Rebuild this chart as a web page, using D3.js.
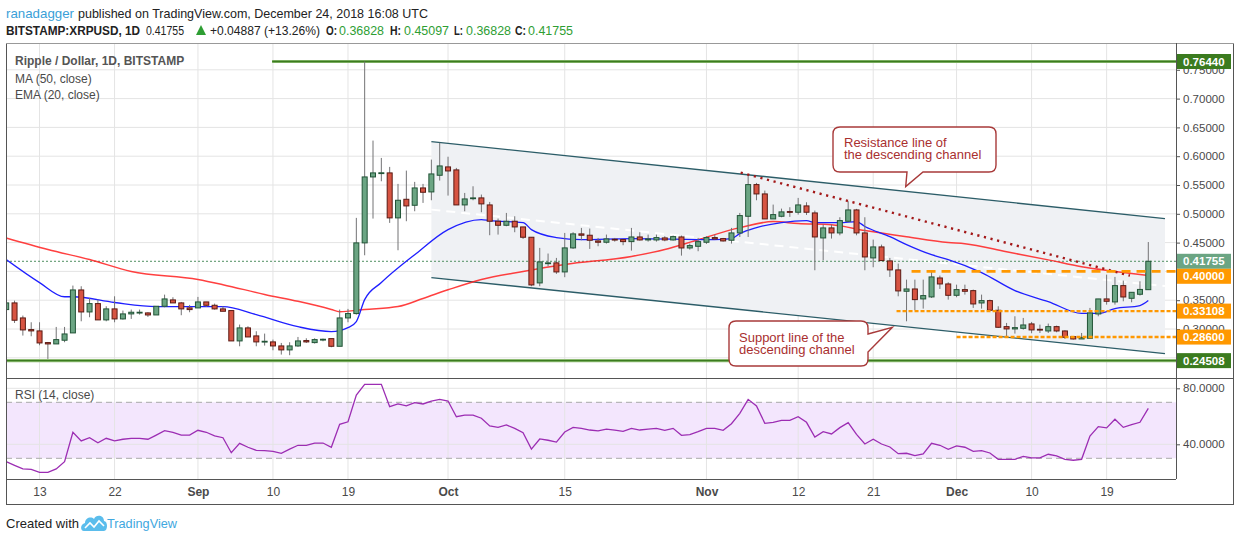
<!DOCTYPE html>
<html>
<head>
<meta charset="utf-8">
<script src="https://cdn.jsdelivr.net/npm/d3@7"></script>
<style>
  body { margin: 0; background: #fff; }
  svg text { font-family: "Liberation Sans", Arial, sans-serif; }
</style>
</head>
<body>
<div id="chart"></div>
<script>
const startDay = '2018-08-09';

const opens = [
  0.3337,0.3453,0.3192,0.2990,0.2967,0.2764,0.2741,0.2805,0.2932,0.3678,
  0.3296,0.3441,0.3158,0.3349,0.3175,0.3262,0.3285,0.3279,0.3244,0.3395,
  0.3505,0.3453,0.3366,0.3366,0.3470,0.3412,0.3349,0.3320,0.2793,0.3019,
  0.2880,0.2776,0.2776,0.2706,0.2637,0.2706,0.2799,0.2764,0.2816,0.2833,
  0.2700,0.3192,0.3268,0.4495,0.5640,0.5705,0.5710,0.4929,0.5252,0.5148,
  0.5449,0.5380,0.5669,0.5814,0.5762,0.5154,0.5270,0.5276,0.5154,0.4871,
  0.4801,0.4871,0.4772,0.4593,0.3800,0.4142,0.4148,0.3991,0.4408,0.4651,
  0.4628,0.4529,0.4506,0.4558,0.4552,0.4517,0.4598,0.4546,0.4546,0.4581,
  0.4546,0.4598,0.4407,0.4436,0.4506,0.4587,0.4569,0.4541,0.4668,0.4957,
  0.5507,0.5345,0.4911,0.4957,0.5039,0.5027,0.5137,0.5015,0.4581,0.4755,
  0.4668,0.4871,0.5067,0.4668,0.4234,0.4425,0.4182,0.4026,0.3655,0.3695,
  0.3522,0.3557,0.3886,0.3782,0.3585,0.3684,0.3666,0.3452,0.3493,0.3325,
  0.3041,0.3001,0.3012,0.3088,0.2995,0.2966,0.3041,0.2966,0.2868,0.2827,
  0.2839,0.3261,0.3522,0.3470,0.3753,0.3533,0.3603,0.36828
];
const highs = [
  0.3460,0.3493,0.3233,0.3117,0.3117,0.2775,0.3036,0.3036,0.3754,0.3742,
  0.3539,0.3511,0.3395,0.3568,0.3320,0.3337,0.3337,0.3291,0.3395,0.3597,
  0.3551,0.3470,0.3418,0.3557,0.3470,0.3441,0.3395,0.3320,0.3077,0.3048,
  0.2961,0.2920,0.2816,0.2758,0.2770,0.2862,0.2839,0.2839,0.2833,0.2833,
  0.3337,0.3349,0.4929,0.7644,0.6271,0.5970,0.5814,0.5519,0.5750,0.5554,
  0.5519,0.5941,0.6231,0.5991,0.5797,0.5362,0.5478,0.5334,0.5206,0.4917,
  0.5015,0.4957,0.4772,0.4593,0.4408,0.4310,0.4234,0.4668,0.4680,0.4755,
  0.4744,0.4581,0.4639,0.4581,0.4564,0.4755,0.4680,0.4639,0.4639,0.4610,
  0.4622,0.4622,0.4483,0.4581,0.4610,0.4639,0.4581,0.4755,0.5015,0.5669,
  0.5536,0.5403,0.5160,0.5090,0.5114,0.5276,0.5200,0.5056,0.4813,0.4813,
  0.4940,0.5218,0.5085,0.4940,0.4552,0.4465,0.4234,0.4136,0.3857,0.3857,
  0.3857,0.3990,0.3927,0.3811,0.3770,0.3770,0.3684,0.3597,0.3510,0.3394,
  0.3105,0.3221,0.3192,0.3123,0.3076,0.3094,0.3059,0.2978,0.2868,0.2931,
  0.3366,0.3522,0.3944,0.3904,0.3840,0.3637,0.3828,0.45097
];
const lows = [
  0.3320,0.3105,0.2886,0.2874,0.2718,0.2480,0.2741,0.2770,0.2932,0.3134,
  0.3204,0.3158,0.3134,0.3117,0.3163,0.3175,0.3250,0.3210,0.3244,0.3377,
  0.3453,0.3239,0.3291,0.3366,0.3383,0.3337,0.3308,0.2793,0.2700,0.2862,
  0.2700,0.2712,0.2631,0.2556,0.2545,0.2689,0.2758,0.2747,0.2787,0.2683,
  0.2700,0.3117,0.3250,0.4280,0.4917,0.5565,0.4842,0.4367,0.4871,0.5044,
  0.5189,0.5235,0.5577,0.5316,0.5154,0.5044,0.5235,0.5027,0.4628,0.4639,
  0.4784,0.4680,0.4564,0.3742,0.3742,0.4089,0.3957,0.3899,0.4390,0.4541,
  0.4390,0.4437,0.4483,0.4517,0.4454,0.4361,0.4535,0.4517,0.4517,0.4523,
  0.4535,0.4274,0.4378,0.4350,0.4477,0.4552,0.4517,0.4483,0.4598,0.4598,
  0.5235,0.4911,0.4911,0.4940,0.4946,0.4986,0.4980,0.4020,0.4193,0.4570,
  0.4627,0.4853,0.4627,0.4020,0.4072,0.4188,0.3904,0.3568,0.3134,0.3325,
  0.3354,0.3539,0.3695,0.3510,0.3551,0.3597,0.3366,0.3354,0.3325,0.3018,
  0.2862,0.2920,0.2989,0.2926,0.2931,0.2931,0.2943,0.2827,0.2816,0.2827,
  0.2839,0.3221,0.3423,0.3423,0.3481,0.3464,0.3580,0.36828
];
const closes = [
  0.3453,0.3152,0.2984,0.2967,0.2758,0.2741,0.2816,0.2914,0.3678,0.3296,
  0.3441,0.3158,0.3349,0.3175,0.3262,0.3291,0.3291,0.3244,0.3395,0.3522,
  0.3453,0.3349,0.3337,0.3470,0.3412,0.3349,0.3308,0.2793,0.3019,0.2862,
  0.2776,0.2787,0.2706,0.2637,0.2706,0.2793,0.2776,0.2816,0.2822,0.2700,
  0.3192,0.3268,0.4495,0.5640,0.5710,0.5712,0.4929,0.5235,0.5137,0.5449,
  0.5374,0.5692,0.5831,0.5744,0.5154,0.5258,0.5276,0.5172,0.4871,0.4801,
  0.4871,0.4772,0.4593,0.3765,0.4165,0.4148,0.3991,0.4408,0.4651,0.4628,
  0.4541,0.4506,0.4564,0.4552,0.4517,0.4598,0.4546,0.4564,0.4587,0.4546,
  0.4604,0.4407,0.4448,0.4517,0.4587,0.4564,0.4529,0.4668,0.4969,0.5507,
  0.5345,0.4911,0.4986,0.5033,0.5027,0.5154,0.5027,0.4598,0.4755,0.4668,
  0.4882,0.5067,0.4668,0.4251,0.4425,0.4188,0.4026,0.3661,0.3695,0.3510,
  0.3580,0.3904,0.3782,0.3585,0.3684,0.3655,0.3435,0.3493,0.3325,0.3030,
  0.3001,0.3024,0.3070,0.2984,0.2984,0.3041,0.2966,0.2856,0.2827,0.2850,
  0.3279,0.3522,0.3481,0.3753,0.3556,0.3637,0.36868,0.41755
];

const rsi14 = [
  27.6,25.0,22.4,22.1,20.0,20.0,22.4,27.6,48.6,42.4,
  44.7,41.1,44.3,42.4,43.6,44.3,44.3,43.6,46.6,49.7,
  48.6,46.6,46.6,50.0,48.6,46.1,44.7,34.0,40.7,37.9,
  35.7,35.5,35.0,33.6,36.6,39.3,39.3,40.9,40.9,37.9,
  54.3,56.1,75.2,82.8,82.8,82.8,66.9,68.8,67.4,69.7,
  68.8,70.9,72.1,70.9,59.7,60.9,60.9,58.6,53.1,52.1,
  53.8,51.4,48.3,36.6,43.8,42.9,41.6,48.8,52.1,51.4,
  50.2,49.6,50.9,50.2,49.3,51.4,50.2,50.8,51.4,50.0,
  51.4,46.4,46.9,49.0,51.4,51.4,50.0,54.7,62.1,72.1,
  67.4,55.0,55.7,57.1,57.1,59.7,55.7,45.2,49.0,47.4,
  51.9,55.5,47.1,40.2,43.6,40.2,38.1,33.3,33.6,31.9,
  33.1,40.7,39.3,36.4,38.8,37.9,35.0,35.5,33.8,29.3,
  29.3,29.3,31.4,30.3,30.3,32.9,31.7,29.3,28.6,29.3,
  45.9,52.6,51.7,57.9,52.1,54.0,55.7,65.7
];

// [day index, value] read along the two moving averages
const ma50 = [
  [0,0.458],[5,0.438],[10,0.4205],[15,0.400],[23,0.386],[26,0.377],[31,0.360],
  [35,0.348],[39,0.334],[40,0.330],[43,0.334],[47,0.339],[50,0.353],[53,0.368],
  [57,0.386],[62,0.400],[67,0.412],[75,0.426],[79,0.438],[83,0.455],[88,0.476],
  [92,0.4865],[95,0.483],[99,0.481],[103,0.471],[108,0.460],[113,0.450],[115,0.448],
  [120,0.434],[125,0.420],[129,0.408],[133,0.400],[137,0.393]
];
const ema20 = [
  [0,0.4205],[4,0.3806],[7,0.356],[8,0.356],[13,0.346],[18,0.339],[26,0.339],
  [30,0.325],[35,0.304],[39,0.2955],[41,0.3024],[42,0.313],[43,0.351],[45,0.3806],
  [49,0.429],[53,0.4726],[57,0.490],[58,0.488],[62,0.4847],[63,0.4726],[66,0.4587],
  [69,0.455],[75,0.457],[85,0.455],[87,0.457],[88,0.4656],[90,0.476],[93,0.4847],
  [96,0.488],[97,0.4847],[100,0.4847],[102,0.4865],[103,0.478],[106,0.4604],
  [108,0.4465],[111,0.429],[113,0.4205],[117,0.398],[121,0.3667],[125,0.3476],
  [129,0.327],[131,0.327],[133,0.3354],[136,0.3406],[137,0.3493]
];

const timeTicks = [
  ['2018-08-13','13'],['2018-08-22','22'],['2018-09-01','Sep'],['2018-09-10','10'],
  ['2018-09-19','19'],['2018-10-01','Oct'],['2018-10-15','15'],['2018-11-01','Nov'],
  ['2018-11-12','12'],['2018-11-21','21'],['2018-12-01','Dec'],['2018-12-10','10'],
  ['2018-12-19','19']
];
const priceTicks = [0.25,0.30,0.35,0.40,0.45,0.50,0.55,0.60,0.65,0.70,0.75];
const rsiTicks = [40, 80];
const rsiBand = [30, 70];

// drawings on the chart
const channelTop = [[51,0.6253],[139,0.4917]];
const channelBottom = [[51,0.3892],[139,0.2573]];
const resistanceDots = [[88.1,0.5715],[134.8,0.3927]];
const greenLevels = [[0.7644,31.9],[0.24508,-1]];            // price, first day index
const orangeLevels = [[0.40,108.6,'long'],[0.33108,106.8,'short'],[0.286,114,'short']];
const lastPrice = 0.41755;
const priceBadges = [
  [0.7644,'#3b7b1f'],[0.41755,'#6ba583'],[0.40,'#ff9800'],
  [0.33108,'#ff9800'],[0.286,'#ff9800'],[0.24508,'#3b7b1f']
];
const callouts = [
  { lines: ['Resistance line of','the descending channel'], tip: [107.9,0.5472] },
  { lines: ['Support line of the','descending channel'], tip: [106.3,0.3030] }
];

// ---------- layout ----------
const W = 1234, H = 541;
const L = 6, R = 1176, T = 43, MB = 378, RB = 479, XB = 504;
const UP = '#6ba583', UP_B = '#225437', DN = '#d75442', DN_B = '#5b1a13';
const GRID = '#e4e4e4', AXIS_TXT = '#4a4a4a';

const svg = d3.select('#chart').append('svg')
  .attr('width', W).attr('height', H)
  .style('display', 'block');

const x = d3.scaleLinear().domain([0, 137]).range([6.2, 1148.3]);
const y = d3.scaleLinear().domain([0.25, 0.75]).range([357.8, 69.8]);
const yr = d3.scaleLinear().domain([40, 80]).range([444.3, 388.3]);

const day0 = new Date(startDay + 'T00:00:00Z');
const dayIdx = s => d3.utcDay.count(day0, new Date(s + 'T00:00:00Z'));

const defs = svg.append('defs');
defs.append('clipPath').attr('id', 'clipMain')
  .append('rect').attr('x', L).attr('y', T).attr('width', R - L).attr('height', MB - T);
defs.append('clipPath').attr('id', 'clipRsi')
  .append('rect').attr('x', L).attr('y', MB).attr('width', R - L).attr('height', RB - MB);

// ---------- header ----------
const head = svg.append('g').attr('font-size', 13);
head.append('text').attr('x', 6).attr('y', 18).attr('fill', '#3a9fd8')
  .attr('textLength', 68).attr('lengthAdjust', 'spacingAndGlyphs').text('ranadagger');
head.append('text').attr('x', 78).attr('y', 18).attr('fill', '#222')
  .attr('textLength', 350).attr('lengthAdjust', 'spacingAndGlyphs')
  .text('published on TradingView.com, December 24, 2018 16:08 UTC');

const last = closes.length - 1;
const chg = closes[last] - closes[last - 1];
const f5 = d3.format('.5f');
const headBits = [
  { t: 'BITSTAMP:XRPUSD, 1D', x: 6, w: 134, bold: true, c: '#222' },
  { t: f5(closes[last]), x: 146, w: 38, c: '#222' },
  { t: `+${f5(chg)} (+${d3.format('.2f')(chg / closes[last - 1] * 100)}%)`, x: 210, w: 110, c: '#222' },
  { t: 'O:', x: 326, w: 11, bold: true, c: '#222' },
  { t: f5(opens[last]), x: 339, w: 45, c: '#2e9e33' },
  { t: 'H:', x: 390, w: 11, bold: true, c: '#222' },
  { t: f5(highs[last]), x: 404, w: 45, c: '#2e9e33' },
  { t: 'L:', x: 454, w: 9, bold: true, c: '#222' },
  { t: f5(lows[last]), x: 466, w: 45, c: '#2e9e33' },
  { t: 'C:', x: 515, w: 11, bold: true, c: '#222' },
  { t: f5(closes[last]), x: 528, w: 45, c: '#2e9e33' }
];
head.selectAll('.hb').data(headBits).join('text')
  .attr('x', d => d.x).attr('y', 35)
  .attr('font-size', 12)
  .attr('font-weight', d => d.bold ? 'bold' : null)
  .attr('fill', d => d.c)
  .attr('textLength', d => d.w).attr('lengthAdjust', 'spacingAndGlyphs')
  .text(d => d.t);
head.append('path').attr('d', 'M196,35L206,35L201,25Z').attr('fill', '#2e9e33');

// ---------- main pane ----------
const main = svg.append('g').attr('clip-path', 'url(#clipMain)');

main.append('g').selectAll('line').data(timeTicks).join('line')
  .attr('x1', d => x(dayIdx(d[0]))).attr('x2', d => x(dayIdx(d[0])))
  .attr('y1', T).attr('y2', MB).attr('stroke', GRID);
main.append('g').selectAll('line').data(priceTicks).join('line')
  .attr('x1', L).attr('x2', R).attr('y1', d => y(d)).attr('y2', d => y(d)).attr('stroke', GRID);

// channel fill and borders
const chPoly = [channelTop[0], channelTop[1], channelBottom[1], channelBottom[0]];
main.append('path')
  .attr('d', 'M' + chPoly.map(p => `${x(p[0])},${y(p[1])}`).join('L') + 'Z')
  .attr('fill', '#eff1f4');
const chMid = channelTop.map((p, i) => [p[0], (p[1] + channelBottom[i][1]) / 2]);
const pl = d3.line().x(d => x(d[0])).y(d => y(d[1]));
main.append('path').attr('d', pl(chMid)).attr('stroke', '#fff')
  .attr('stroke-width', 2).attr('stroke-dasharray', '9 6').attr('fill', 'none');
[channelTop, channelBottom].forEach(c => {
  main.append('path').attr('d', pl(c)).attr('stroke', '#2c5d68')
    .attr('stroke-width', 1.4).attr('fill', 'none');
});

// horizontal green levels
greenLevels.forEach(([v, from]) => {
  main.append('line').attr('x1', x(from)).attr('x2', R)
    .attr('y1', y(v)).attr('y2', y(v)).attr('stroke', '#8dbb72').attr('stroke-width', 3.2);
  main.append('line').attr('x1', x(from)).attr('x2', R)
    .attr('y1', y(v)).attr('y2', y(v)).attr('stroke', '#3b7b1f').attr('stroke-width', 1.4);
});

// last price line
main.append('line').attr('x1', L).attr('x2', R)
  .attr('y1', y(lastPrice)).attr('y2', y(lastPrice))
  .attr('stroke', '#4f8f61').attr('stroke-dasharray', '2 2');

// moving averages
const curve = d3.line().x(d => x(d[0])).y(d => y(d[1])).curve(d3.curveMonotoneX);
main.append('path').attr('d', curve(ma50)).attr('fill', 'none')
  .attr('stroke', '#ff1f1f').attr('stroke-width', 1.5).attr('stroke-opacity', 0.85);
main.append('path').attr('d', curve(ema20)).attr('fill', 'none')
  .attr('stroke', '#1f1fff').attr('stroke-width', 1.3);

// candles
const candles = opens.map((o, i) => ({ i, o, h: highs[i], l: lows[i], c: closes[i] }));
const cg = main.append('g').selectAll('g').data(candles).join('g');
cg.append('line')
  .attr('x1', d => x(d.i)).attr('x2', d => x(d.i))
  .attr('y1', d => y(d.h)).attr('y2', d => y(d.l))
  .attr('stroke', '#737375');
cg.append('rect')
  .attr('x', d => x(d.i) - 2.5).attr('width', 5)
  .attr('y', d => y(Math.max(d.o, d.c)))
  .attr('height', d => Math.max(0.8, Math.abs(y(d.o) - y(d.c))))
  .attr('fill', d => d.c >= d.o ? UP : DN)
  .attr('stroke', d => d.c >= d.o ? UP_B : DN_B);

// resistance dotted line
main.append('path').attr('d', pl(resistanceDots)).attr('fill', 'none')
  .attr('stroke', '#a31818').attr('stroke-width', 2.4).attr('stroke-dasharray', '2.2 4.6');

// orange levels
orangeLevels.forEach(([v, from, kind]) => {
  main.append('line').attr('x1', x(from)).attr('x2', R)
    .attr('y1', y(v)).attr('y2', y(v))
    .attr('stroke', '#ff9800').attr('stroke-width', kind === 'long' ? 2.6 : 2.4)
    .attr('stroke-dasharray', kind === 'long' ? '9 6' : '4 2');
});

// callouts
function boxPath(b, tip, side) {
  const r = 7, x0 = b.x, y0 = b.y, x1 = b.x + b.w, y1 = b.y + b.h;
  const [tx, ty] = tip;
  if (side === 'bottom') {
    return `M${x0 + r},${y0}H${x1 - r}Q${x1},${y0} ${x1},${y0 + r}V${y1 - r}Q${x1},${y1} ${x1 - r},${y1}` +
      `H${b.p2}L${tx},${ty}L${b.p1},${y1}H${x0 + r}Q${x0},${y1} ${x0},${y1 - r}V${y0 + r}Q${x0},${y0} ${x0 + r},${y0}Z`;
  }
  return `M${x0 + r},${y0}H${x1 - r}Q${x1},${y0} ${x1},${y0 + r}V${b.p1}L${tx},${ty}L${x1},${b.p2}` +
    `V${y1 - r}Q${x1},${y1} ${x1 - r},${y1}H${x0 + r}Q${x0},${y1} ${x0},${y1 - r}V${y0 + r}Q${x0},${y0} ${x0 + r},${y0}Z`;
}
const boxes = [
  { x: 833, y: 127, w: 163, h: 45, p1: 907, p2: 923, side: 'bottom', tx: 844, ty: 146.5 },
  { x: 729, y: 321, w: 139, h: 45, p1: 334, p2: 352, side: 'right', tx: 739, ty: 341.5 }
];
callouts.forEach((c, k) => {
  const b = boxes[k];
  const tip = [x(c.tip[0]), y(c.tip[1])];
  main.append('path').attr('d', boxPath(b, tip, b.side))
    .attr('fill', '#fff').attr('stroke', '#a83a3a').attr('stroke-width', 1.4);
  main.append('g').selectAll('text').data(c.lines).join('text')
    .attr('x', b.tx).attr('y', (d, j) => b.ty + j * 12)
    .attr('font-size', 13).attr('fill', '#a92f2f').text(d => d);
});

// legend
const leg = svg.append('g').attr('fill', '#4a4a4a').attr('font-size', 12);
leg.append('text').attr('x', 15).attr('y', 65).attr('font-weight', 'bold')
  .attr('fill', '#555').text('Ripple / Dollar, 1D, BITSTAMP');
leg.append('text').attr('x', 15).attr('y', 82.5).text('MA (50, close)');
leg.append('text').attr('x', 15).attr('y', 98.5).text('EMA (20, close)');

// ---------- RSI pane ----------
const rp = svg.append('g').attr('clip-path', 'url(#clipRsi)');
rp.append('rect').attr('x', L).attr('width', R - L)
  .attr('y', yr(rsiBand[1])).attr('height', yr(rsiBand[0]) - yr(rsiBand[1]))
  .attr('fill', '#f3e6fd');
rp.append('g').selectAll('line').data(timeTicks).join('line')
  .attr('x1', d => x(dayIdx(d[0]))).attr('x2', d => x(dayIdx(d[0])))
  .attr('y1', MB).attr('y2', RB).attr('stroke', GRID);
rp.append('g').selectAll('line').data(rsiTicks).join('line')
  .attr('x1', L).attr('x2', R).attr('y1', d => yr(d)).attr('y2', d => yr(d)).attr('stroke', GRID);
rp.append('g').selectAll('line').data(rsiBand).join('line')
  .attr('x1', L).attr('x2', R).attr('y1', d => yr(d)).attr('y2', d => yr(d))
  .attr('stroke', '#a9a9a9').attr('stroke-dasharray', '6 4');
rp.append('path')
  .attr('d', d3.line().x((d, i) => x(i)).y(d => yr(d))(rsi14))
  .attr('fill', 'none').attr('stroke', '#9c2db3').attr('stroke-width', 1.3);
svg.append('text').attr('x', 15).attr('y', 399).attr('font-size', 12)
  .attr('fill', '#4a4a4a').text('RSI (14, close)');

// ---------- price badges (pushed apart when they collide) ----------
const badgeY = priceBadges.map(b => ({ v: b[0], fill: b[1], cy: y(b[0]) }))
  .sort((a, b) => a.cy - b.cy);
for (let k = 1; k < badgeY.length; k++) {
  if (badgeY[k].cy - badgeY[k - 1].cy < 15) badgeY[k].cy = badgeY[k - 1].cy + 15;
}
// tick labels that sit right under a badge are hidden, as on the snapshot
const shownTicks = priceTicks.filter(t => !badgeY.some(b => Math.abs(b.cy - y(t)) < 6));

// ---------- axes ----------
const pa = svg.append('g').attr('transform', `translate(${R},0)`)
  .call(d3.axisRight(y).tickValues(shownTicks).tickFormat(f5).tickSize(4).tickPadding(3));
const ra = svg.append('g').attr('transform', `translate(${R},0)`)
  .call(d3.axisRight(yr).tickValues(rsiTicks).tickFormat(d3.format('.4f')).tickSize(4).tickPadding(3));
const ta = svg.append('g').attr('transform', `translate(0,${RB})`)
  .call(d3.axisBottom(x).tickValues(timeTicks.map(d => dayIdx(d[0])))
    .tickFormat((d, i) => timeTicks[i][1]).tickSize(0).tickPadding(8));
[pa, ra, ta].forEach(g => {
  g.select('.domain').remove();
  g.selectAll('line').attr('stroke', '#555');
  g.selectAll('text').attr('fill', AXIS_TXT).attr('font-family', '"Liberation Sans", Arial, sans-serif');
});
pa.selectAll('text').attr('font-size', 11.5);
ra.selectAll('text').attr('font-size', 11.5);
ta.selectAll('text').attr('font-size', 12)
  .attr('font-weight', (d, i) => /[A-Z]/.test(timeTicks[i][1]) ? 'bold' : null);

const bg = svg.append('g').selectAll('g').data(badgeY).join('g')
  .attr('transform', d => `translate(${R},${d.cy})`);
bg.append('rect').attr('x', 1).attr('y', -7.5).attr('width', 54).attr('height', 15)
  .attr('fill', d => d.fill);
bg.append('text').attr('x', 7).attr('y', 4.2).attr('font-size', 11.5)
  .attr('font-weight', 'bold').attr('fill', '#fff').text(d => f5(d.v));

// ---------- frame ----------
const fr = svg.append('g').attr('stroke', '#555').attr('fill', 'none');
fr.append('line').attr('x1', L + 0.5).attr('x2', L + 0.5).attr('y1', T).attr('y2', XB);
fr.append('line').attr('x1', W - 0.5).attr('x2', W - 0.5).attr('y1', T).attr('y2', XB);
fr.append('line').attr('x1', L).attr('x2', W).attr('y1', T + 0.5).attr('y2', T + 0.5).attr('stroke', '#999');
fr.append('line').attr('x1', L).attr('x2', W).attr('y1', MB + 0.5).attr('y2', MB + 0.5);
fr.append('line').attr('x1', L).attr('x2', R).attr('y1', RB + 0.5).attr('y2', RB + 0.5);
fr.append('line').attr('x1', L).attr('x2', W).attr('y1', XB + 0.5).attr('y2', XB + 0.5);
fr.append('line').attr('x1', R + 0.5).attr('x2', R + 0.5).attr('y1', T).attr('y2', RB);

// ---------- footer ----------
const foot = svg.append('g').attr('font-size', 13);
foot.append('text').attr('x', 6).attr('y', 528).attr('fill', '#222')
  .attr('textLength', 73).attr('lengthAdjust', 'spacingAndGlyphs').text('Created with');
foot.append('path')
  .attr('d', 'M84,531C80,531 80,524 85,523C85,518 91,516 94,519C96,514 104,515 104,521C108,521 108,531 104,531Z')
  .attr('fill', '#5bbdec');
foot.append('path').attr('d', 'M85,528L90,523L94,527L99,521L104,526')
  .attr('fill', 'none').attr('stroke', '#fff').attr('stroke-width', 1.6);
foot.append('text').attr('x', 107).attr('y', 528).attr('fill', '#3fa8e0')
  .attr('textLength', 70).attr('lengthAdjust', 'spacingAndGlyphs').text('TradingView');
</script>
</body>
</html>
